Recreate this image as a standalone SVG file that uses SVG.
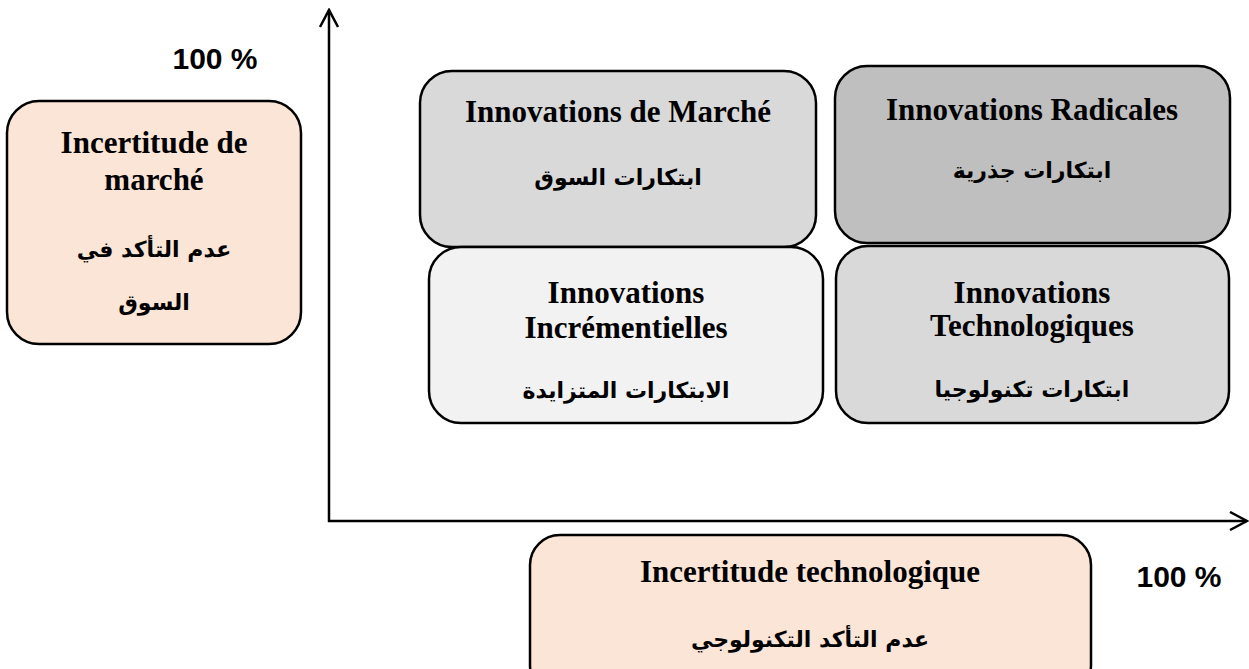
<svg xmlns="http://www.w3.org/2000/svg" width="1249" height="669" viewBox="0 0 1249 669">
<style>
.box{stroke:#000;stroke-width:2.5}
.en{font-family:"Liberation Serif","Times New Roman",serif;font-weight:bold;font-size:31px;fill:#000;text-anchor:middle}
.ar{font-family:"DejaVu Sans",sans-serif;font-weight:bold;font-size:22px;fill:#000;text-anchor:middle}
.pct{font-family:"Liberation Sans",Arial,sans-serif;font-weight:bold;font-size:30px;fill:#000;text-anchor:middle}
.axis{stroke:#000;stroke-width:2.5;fill:none}
</style>
<defs>
<marker id="arr" markerUnits="userSpaceOnUse" viewBox="0 0 20 20" markerWidth="20" markerHeight="20" refX="18" refY="10" orient="auto">
<path d="M1,1 L18,10 L1,19" fill="none" stroke="#000" stroke-width="2.5"/>
</marker>
</defs>
<rect width="1249" height="669" fill="#fff"/>
<g id="connectors">
<line class="axis" x1="329" y1="522" x2="329" y2="10" marker-end="url(#arr)"/>
<line class="axis" x1="328" y1="521" x2="1247" y2="521" marker-end="url(#arr)"/>
</g>
<g id="pct-y"><text class="pct" x="215" y="69">100 %</text></g>
<g id="pct-x"><text class="pct" x="1179" y="587">100 %</text></g>
<g id="market-uncertainty">
<rect class="box" x="7" y="101" width="294" height="243" rx="32" fill="#fbe5d6"/>
<text class="en" x="154" y="153">Incertitude de</text>
<text class="en" x="154" y="190">marché</text>
<text class="ar" x="154" y="257" direction="rtl">عدم التأكد في</text>
<text class="ar" x="154" y="310" direction="rtl">السوق</text>
</g>
<g id="market-innov">
<rect class="box" x="420" y="71" width="396" height="176" rx="32" fill="#d9d9d9"/>
<text class="en" x="618" y="122">Innovations de Marché</text>
<text class="ar" x="618" y="185" direction="rtl">ابتكارات السوق</text>
</g>
<g id="radical-innov">
<rect class="box" x="835" y="66" width="395" height="177" rx="32" fill="#bfbfbf"/>
<text class="en" x="1032" y="120">Innovations Radicales</text>
<text class="ar" x="1032" y="178" direction="rtl">ابتكارات جذرية</text>
</g>
<g id="incremental-innov">
<rect class="box" x="429" y="247" width="394" height="176" rx="32" fill="#f2f2f2"/>
<text class="en" x="626" y="303">Innovations</text>
<text class="en" x="626" y="338">Incrémentielles</text>
<text class="ar" x="626" y="398" direction="rtl">الابتكارات المتزايدة</text>
</g>
<g id="tech-innov">
<rect class="box" x="836" y="246" width="393" height="177" rx="32" fill="#d9d9d9"/>
<text class="en" x="1032" y="303">Innovations</text>
<text class="en" x="1032" y="336">Technologiques</text>
<text class="ar" x="1032" y="397" direction="rtl">ابتكارات تكنولوجيا</text>
</g>
<g id="tech-uncertainty">
<rect class="box" x="530" y="535" width="561" height="160" rx="30" fill="#fbe5d6"/>
<text class="en" x="810" y="582">Incertitude technologique</text>
<text class="ar" x="810" y="647" direction="rtl">عدم التأكد التكنولوجي</text>
</g>
</svg>
